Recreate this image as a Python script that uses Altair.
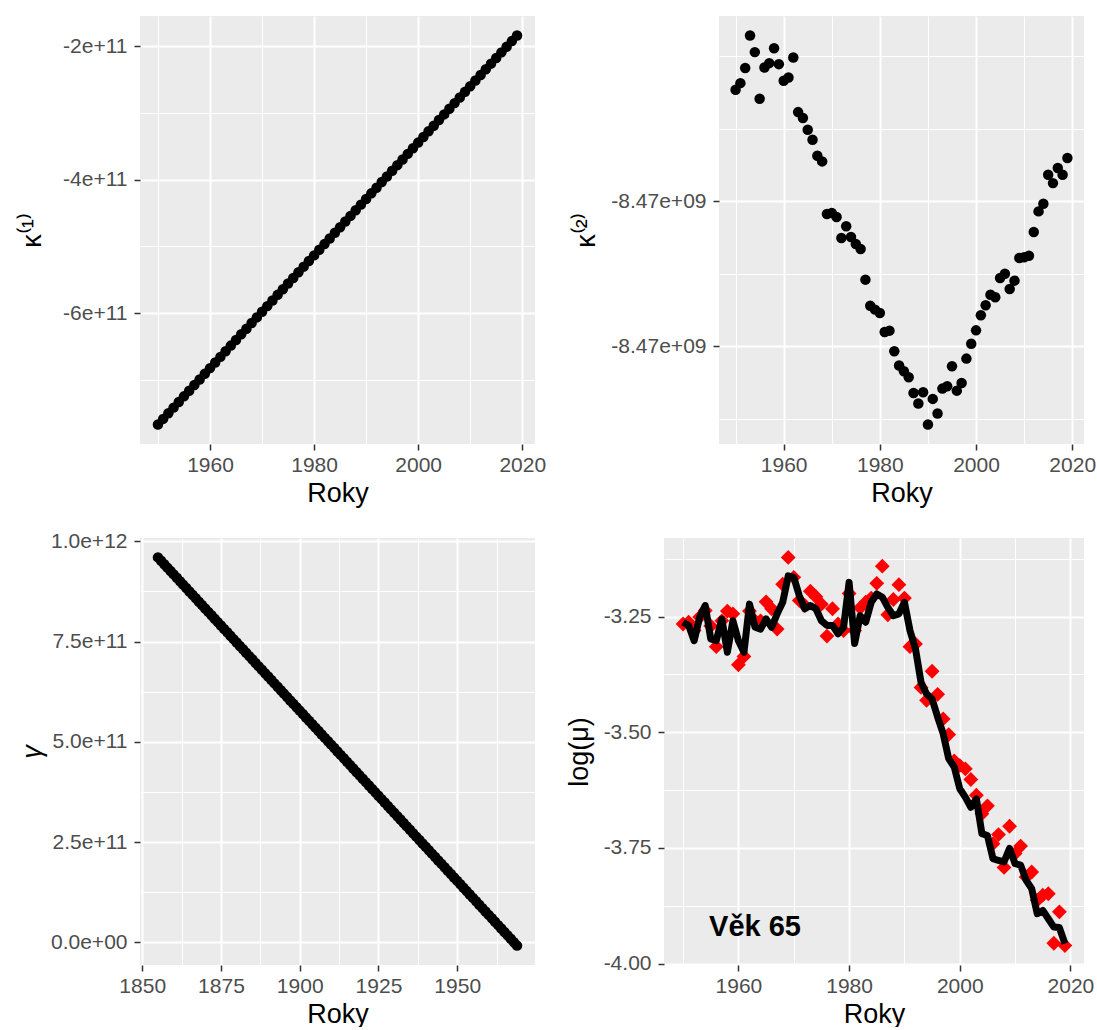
import json
import altair as alt
import pandas as pd

# ---------------- data ----------------
YEARS = list(range(1950, 2020))

# kappa(1) in units of 1e9
KAPPA1_E9 = [
    -767.0, -758.55, -750.1, -741.65, -733.2, -724.75, -716.3, -707.85, -699.4, -690.95,
    -682.5, -674.05, -665.6, -657.15, -648.7, -640.25, -631.8, -623.35, -614.9, -606.45,
    -598.0, -589.55, -581.1, -572.65, -564.2, -555.75, -547.3, -538.85, -530.4, -521.95,
    -513.5, -505.05, -496.6, -488.15, -479.7, -471.25, -462.8, -454.35, -445.9, -437.45,
    -429.0, -420.55, -412.1, -403.65, -395.2, -386.75, -378.3, -369.85, -361.4, -352.95,
    -344.5, -336.05, -327.6, -319.15, -310.7, -302.25, -293.8, -285.35, -276.9, -268.45,
    -260.0, -251.55, -243.1, -234.65, -226.2, -217.75, -209.3, -200.85, -192.4, -183.95,
]

# kappa(2): variation around -8.47e+09 (relative units between the two labelled breaks)
KAPPA2_REL = [
    1.770, 1.816, 1.920, 2.145, 2.030, 1.708, 1.924, 1.954, 2.057, 1.947,
    1.832, 1.855, 1.993, 1.616, 1.575, 1.494, 1.425, 1.315, 1.276, 0.913,
    0.920, 0.892, 0.747, 0.828, 0.754, 0.706, 0.671, 0.460, 0.280, 0.253,
    0.230, 0.099, 0.108, -0.034, -0.133, -0.172, -0.214, -0.322, -0.395, -0.317,
    -0.540, -0.363, -0.464, -0.292, -0.276, -0.138, -0.306, -0.253, -0.085, 0.018,
    0.110, 0.214, 0.283, 0.356, 0.338, 0.471, 0.501, 0.395, 0.453, 0.609,
    0.614, 0.625, 0.789, 0.931, 0.984, 1.184, 1.126, 1.230, 1.184, 1.299,
]

COHORTS = list(range(1855, 1970))
# gamma in units of 1e9
GAMMA_E9 = [
    960.0, 951.5, 943.0, 934.5, 926.0, 917.6, 909.1, 900.6, 892.1, 883.6,
    875.1, 866.6, 858.1, 849.6, 841.1, 832.7, 824.2, 815.7, 807.2, 798.7,
    790.2, 781.7, 773.2, 764.7, 756.2, 747.8, 739.3, 730.8, 722.3, 713.8,
    705.3, 696.8, 688.3, 679.8, 671.3, 662.9, 654.4, 645.9, 637.4, 628.9,
    620.4, 611.9, 603.4, 594.9, 586.4, 578.0, 569.5, 561.0, 552.5, 544.0,
    535.5, 527.0, 518.5, 510.0, 501.5, 493.1, 484.6, 476.1, 467.6, 459.1,
    450.6, 442.1, 433.6, 425.1, 416.6, 408.2, 399.7, 391.2, 382.7, 374.2,
    365.7, 357.2, 348.7, 340.2, 331.7, 323.3, 314.8, 306.3, 297.8, 289.3,
    280.8, 272.3, 263.8, 255.3, 246.8, 238.4, 229.9, 221.4, 212.9, 204.4,
    195.9, 187.4, 178.9, 170.4, 161.9, 153.5, 145.0, 136.5, 128.0, 119.5,
    111.0, 102.5, 94.0, 85.5, 77.0, 68.6, 60.1, 51.6, 43.1, 34.6,
    26.1, 17.6, 9.1, 0.6, -7.9,
]

LOGMU_OBS = [
    -3.266, -3.262, -3.280, -3.251, -3.237, -3.270, -3.315, -3.259, -3.238, -3.244,
    -3.354, -3.336, -3.238, -3.259, -3.259, -3.218, -3.233, -3.277, -3.180, -3.122,
    -3.165, -3.215, -3.226, -3.195, -3.207, -3.223, -3.292, -3.233, -3.266, -3.280,
    -3.200, -3.280, -3.231, -3.219, -3.210, -3.178, -3.141, -3.246, -3.213, -3.181,
    -3.210, -3.315, -3.309, -3.403, -3.431, -3.368, -3.418, -3.471, -3.505, -3.562,
    -3.572, -3.579, -3.602, -3.636, -3.676, -3.659, -3.741, -3.721, -3.792, -3.703,
    -3.762, -3.746, -3.813, -3.802, -3.863, -3.852, -3.849, -3.956, -3.888, -3.961,
]

LOGMU_FIT = [
    -3.262, -3.269, -3.302, -3.251, -3.226, -3.298, -3.302, -3.255, -3.327, -3.259,
    -3.302, -3.327, -3.223, -3.273, -3.277, -3.255, -3.273, -3.244, -3.219, -3.162,
    -3.165, -3.205, -3.233, -3.226, -3.233, -3.259, -3.269, -3.269, -3.287, -3.273,
    -3.176, -3.308, -3.248, -3.262, -3.219, -3.201, -3.208, -3.230, -3.248, -3.244,
    -3.219, -3.280, -3.320, -3.392, -3.417, -3.428, -3.467, -3.503, -3.557, -3.575,
    -3.622, -3.640, -3.662, -3.644, -3.719, -3.723, -3.773, -3.777, -3.780, -3.751,
    -3.784, -3.787, -3.820, -3.838, -3.892, -3.885, -3.903, -3.921, -3.922, -3.957,
]

AGE_LABEL = "Věk 65"
ANNOT_X = 1963
ANNOT_Y = -3.92

# axis breaks and labels
YEAR_MAJOR = [1960, 1980, 2000, 2020]
YEAR_MINOR = [1950, 1970, 1990, 2010]
YEAR_LABELS = ["1960", "1980", "2000", "2020"]

COH_MAJOR = [1850, 1875, 1900, 1925, 1950]
COH_MINOR = [1862.5, 1887.5, 1912.5, 1937.5, 1962.5]
COH_LABELS = ["1850", "1875", "1900", "1925", "1950"]

K1_MAJOR = [-600.0, -400.0, -200.0]
K1_MINOR = [-700.0, -500.0, -300.0]
K1_LABELS = ["-6e+11", "-4e+11", "-2e+11"]

K2_MAJOR = [0.0, 1.0]
K2_MINOR = [-0.5, 0.5, 1.5, 2.0]
K2_LABELS = ["-8.47e+09", "-8.47e+09"]

G_MAJOR = [0.0, 250.0, 500.0, 750.0, 1000.0]
G_MINOR = [125.0, 375.0, 625.0, 875.0]
G_LABELS = ["0.0e+00", "2.5e+11", "5.0e+11", "7.5e+11", "1.0e+12"]

LM_MAJOR = [-4.0, -3.75, -3.5, -3.25]
LM_MINOR = [-3.875, -3.625, -3.375, -3.125]
LM_LABELS = ["-4.00", "-3.75", "-3.50", "-3.25"]

FONT = "Liberation Sans"
LABEL_SIZE = 21
TITLE_SIZE = 27


def expanded(values):
    lo, hi = min(values), max(values)
    pad = 0.05 * (hi - lo)
    return [lo - pad, hi + pad]


def make_axis(major, minor, labels, title, title_padding, label_padding, **kw):
    vals = sorted(major + minor)
    maj = json.dumps(major)
    test = f"indexof({maj}, datum.value) >= 0"
    lab = f"indexof({maj}, datum.value) >= 0 ? {json.dumps(labels)}[indexof({maj}, datum.value)] : ''"
    return alt.Axis(
        values=vals,
        title=title,
        labelExpr=lab,
        gridWidth={"condition": {"test": test, "value": 2.0}, "value": 1.0},
        tickOpacity={"condition": {"test": test, "value": 1}, "value": 0},
        labelOverlap=False,
        labelFlush=False,
        labelFont=FONT,
        labelFontSize=LABEL_SIZE,
        labelColor="#4D4D4D",
        labelPadding=label_padding,
        titleFont=FONT,
        titleFontSize=TITLE_SIZE,
        titleFontWeight="normal",
        titleColor="#000000",
        titlePadding=title_padding,
        domain=False,
        tickColor="#333333",
        tickSize=6,
        tickWidth=1.5,
        gridColor="#FFFFFF",
        gridOpacity=1,
        **kw,
    )


def year_axis():
    return make_axis(YEAR_MAJOR, YEAR_MINOR, YEAR_LABELS, "Roky", 5, 4)


LEFT_EXTENT = 90  # common extent of ticks+labels for the left-column y axes
DOT = 110

# ---------------- panel 1 ----------------
df1 = pd.DataFrame({"rok": YEARS, "k1": KAPPA1_E9})
p1 = alt.Chart(df1).mark_circle(size=DOT, color="black", opacity=1).encode(
    x=alt.X("rok:Q", scale=alt.Scale(domain=expanded(YEARS), nice=False, zero=False), axis=year_axis()),
    y=alt.Y("k1:Q", scale=alt.Scale(domain=expanded(KAPPA1_E9), nice=False, zero=False),
            axis=make_axis(K1_MAJOR, K1_MINOR, K1_LABELS, "κ⁽¹⁾", 4, 7,
                           minExtent=LEFT_EXTENT, maxExtent=LEFT_EXTENT)),
).properties(width=395, height=428)

# ---------------- panel 2 ----------------
df2 = pd.DataFrame({"rok": YEARS, "k2": KAPPA2_REL})
p2 = alt.Chart(df2).mark_circle(size=DOT, color="black", opacity=1).encode(
    x=alt.X("rok:Q", scale=alt.Scale(domain=expanded(YEARS), nice=False, zero=False), axis=year_axis()),
    y=alt.Y("k2:Q", scale=alt.Scale(domain=expanded(KAPPA2_REL), nice=False, zero=False),
            axis=make_axis(K2_MAJOR, K2_MINOR, K2_LABELS, "κ⁽²⁾", 10, 7)),
).properties(width=365, height=428)

# ---------------- panel 3 ----------------
df3 = pd.DataFrame({"kohorta": COHORTS, "g": GAMMA_E9})
p3 = alt.Chart(df3).mark_circle(size=DOT, color="black", opacity=1).encode(
    x=alt.X("kohorta:Q", scale=alt.Scale(domain=expanded(COHORTS), nice=False, zero=False),
            axis=make_axis(COH_MAJOR, COH_MINOR, COH_LABELS, "Roky", 5, 4)),
    y=alt.Y("g:Q", scale=alt.Scale(domain=expanded(GAMMA_E9), nice=False, zero=False),
            axis=make_axis(G_MAJOR, G_MINOR, G_LABELS, "γ", 4, 7, titleFontStyle="italic",
                           minExtent=LEFT_EXTENT, maxExtent=LEFT_EXTENT)),
).properties(width=395, height=427)

# ---------------- panel 4 ----------------
df4 = pd.DataFrame({"rok": YEARS, "obs": LOGMU_OBS, "fit": LOGMU_FIT})
x4 = alt.Scale(domain=expanded(YEARS), nice=False, zero=False)
y4 = alt.Scale(domain=expanded(LOGMU_OBS + LOGMU_FIT), nice=False, zero=False)
ax4x = year_axis()
ax4y = make_axis(LM_MAJOR, LM_MINOR, LM_LABELS, "log(μ)", 10, 7)

pts4 = alt.Chart(df4).mark_point(shape="diamond", filled=True, size=220, color="#FF0000", opacity=1).encode(
    x=alt.X("rok:Q", scale=x4, axis=ax4x),
    y=alt.Y("obs:Q", scale=y4, axis=ax4y),
)
line4 = alt.Chart(df4).mark_line(color="black", strokeWidth=7, strokeJoin="round", strokeCap="butt").encode(
    x=alt.X("rok:Q", scale=x4, axis=ax4x),
    y=alt.Y("fit:Q", scale=y4, axis=ax4y),
)
ann_df = pd.DataFrame({"x": [ANNOT_X], "y": [ANNOT_Y], "t": [AGE_LABEL]})
txt4 = alt.Chart(ann_df).mark_text(font=FONT, fontSize=29, fontWeight="bold", color="black",
                                   align="center", baseline="middle").encode(
    x=alt.X("x:Q", scale=x4, axis=ax4x),
    y=alt.Y("y:Q", scale=y4, axis=ax4y),
    text="t:N",
)
p4 = alt.layer(pts4, line4, txt4).properties(width=420, height=427)

row1 = alt.hconcat(p1, p2, spacing=184, bounds="flush")
row2 = alt.hconcat(p3, p4, spacing=129, bounds="flush")

chart = alt.vconcat(row1, row2, spacing=24, bounds="full").properties(
    padding={"left": 18, "top": 16, "right": 0, "bottom": 0},
    background="white",
).configure_view(fill="#EBEBEB", strokeWidth=0)

chart.save("out.html", embed_options={"renderer": "svg", "actions": False})
